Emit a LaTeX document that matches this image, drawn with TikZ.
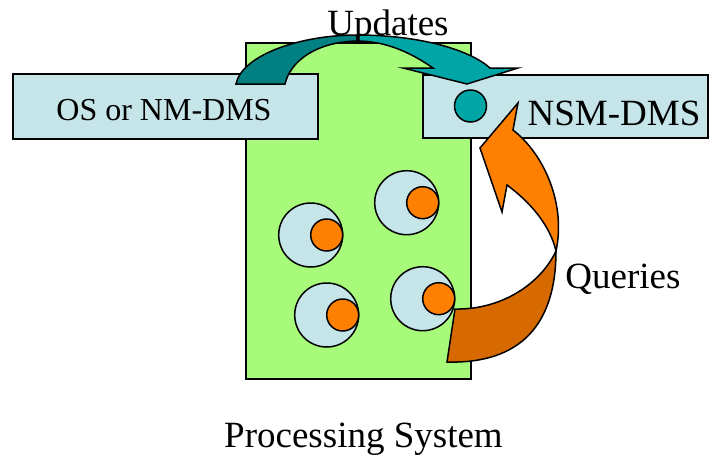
\documentclass[tikz,border=0pt]{standalone}
\usepackage{fontspec}
\setmainfont{Liberation Serif}
\usepackage{tikz}

\definecolor{procgreen}{RGB}{168,250,122}
\definecolor{dmsblue}{RGB}{197,229,233}
\definecolor{tealdark}{RGB}{0,128,128}
\definecolor{teallight}{RGB}{0,166,166}
\definecolor{qorange}{RGB}{255,128,0}
\definecolor{qdark}{RGB}{214,106,0}

\begin{document}
\begin{tikzpicture}[x = 1pt, y = -1pt, line width = 1.5pt,
		label/.style = {font = \fontsize{37}{44}\selectfont, anchor = base, inner sep = 0pt},
		dmsbox/.style = {draw, fill = dmsblue}]
	\useasboundingbox (0,0) rectangle (710,456);

	% processing system
	\draw [fill = procgreen] (246,43) rectangle (471,379);

	\foreach \x/\y in {310.7/235, 406.7/202.7, 326.7/315, 422.7/298.7}
	{
		\draw [fill = dmsblue] (\x,\y) circle [radius = 32];
		\draw [fill = qorange] (\x+16,\y) circle [radius = 16];
	}

	% the two stores
	\draw [dmsbox] (13,74) rectangle (318,139);
	\draw [dmsbox] (423,75) rectangle (708,138);
	\draw [fill = teallight] (470.5,106) circle [radius = 16];

	\node [label, font = \fontsize{32}{38}\selectfont] (osnm) at (164,120.7) {OS or NM-DMS};
	\node [label] (nsm) at (614,125) {NSM-DMS};

	% updates arrow
	\draw [fill = tealdark] (236,84) .. controls (242,55) and (300,35) .. (357,35)
		-- (357,41) .. controls (315,42) and (290,62) .. (285,84) -- cycle;
	\draw [fill = teallight] (357,35) .. controls (420,35) and (470,50) .. (490,68)
		-- (518,68) -- (467,84) -- (403,68) -- (433,68)
		.. controls (410,52) and (385,41) .. (357,41) -- cycle;
	\node [label] (updates) at (388,35) {Updates};

	% queries arrow
	\draw [fill = qorange] (518,103) -- (480,148) -- (502,212) -- (507,185)
		.. controls (530,202) and (550,225) .. (556,251)
		.. controls (566,205) and (545,155) .. (513,130) -- cycle;
	\draw [fill = qdark] (455,309) -- (447,362)
		.. controls (520,364) and (556,325) .. (556,251)
		.. controls (540,285) and (500,310) .. (455,309) -- cycle;
	\node [label] (queries) at (623,288) {Queries};

	\node [label] (procsys) at (363.5,447) {Processing System};
\end{tikzpicture}
\end{document}
